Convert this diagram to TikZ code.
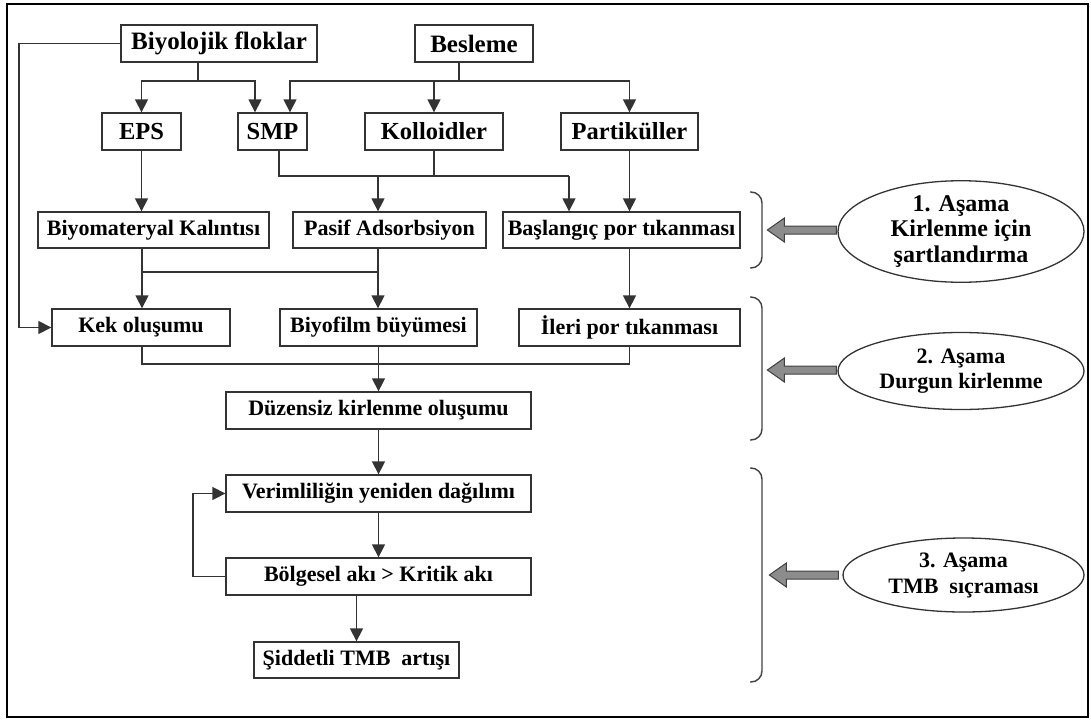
\documentclass[tikz,border=0pt]{standalone}
\usepackage{fontspec}
\setmainfont{Liberation Serif}
\usetikzlibrary{arrows.meta,shapes.geometric}
\begin{document}
\begin{tikzpicture}[x=1pt,y=-1pt,
  box/.style={draw=black!80,line width=1.3pt,inner sep=0pt,minimum height=37pt,align=center,font=\fontsize{22}{24}\selectfont\bfseries},
  bigbox/.style={box,font=\fontsize{25}{27}\selectfont\bfseries},
  midbox/.style={box,font=\fontsize{24.5}{26}\selectfont\bfseries},
  ln/.style={draw=black!80,line width=1.3pt},
  arr/.style={ln,-{Triangle[length=13pt,width=13pt]}},
  ell/.style={ellipse,draw=black!80,line width=1.3pt,inner sep=0pt,align=center},
  brc/.style={draw=black!75,line width=1.4pt,rounded corners=11pt},
  garrow/.style={draw=black!75,fill=black!45,line width=1pt,line join=miter}
]
\useasboundingbox (0,0) rectangle (1091,720);
\draw[line width=2pt] (7,4) rectangle (1088,717);

% top row
\node[bigbox,minimum width=196pt] (bio) at (219,43.5) {Biyolojik floklar};
\node[bigbox,minimum width=118pt] (bes) at (474,43.5) {Besleme};
% second row
\node[midbox,minimum width=79pt] (eps) at (141.5,131.5) {EPS};
\node[midbox,minimum width=69pt] (smp) at (272.5,131.5) {SMP};
\node[midbox,minimum width=138pt] (kol) at (434,131.5) {Kolloidler};
\node[midbox,minimum width=137pt] (par) at (629.5,131.5) {Partiküller};
% third row
\node[box,minimum width=231pt,minimum height=36pt] (biyom) at (153.5,230) {Biyomateryal Kalıntısı};
\node[box,minimum width=193pt,minimum height=36pt] (pasif) at (389.5,230) {Pasif Adsorbsiyon};
\node[box,minimum width=237pt,minimum height=36pt] (bas) at (621.5,230) {Başlangıç por tıkanması};
% fourth row
\node[box,minimum width=178pt] (kek) at (141,327.5) {Kek oluşumu};
\node[box,minimum width=197pt] (biyof) at (378.5,327.5) {Biyofilm büyümesi};
\node[box,minimum width=221pt] (ileri) at (629.5,327.5) {İleri por tıkanması};
% lower column
\node[box,minimum width=305pt] (duz) at (378.5,410.5) {Düzensiz kirlenme oluşumu};
\node[box,minimum width=305pt] (ver) at (378.5,493.5) {Verimliliğin yeniden dağılımı};
\node[box,minimum width=305pt] (bol) at (378.5,576.5) {Bölgesel akı > Kritik akı};
\node[box,minimum width=205pt,minimum height=36pt] (sid) at (356.5,660) {Şiddetli TMB\ \ artışı};

% helper coordinates
\coordinate (bj) at (198,81);
\coordinate (fj) at (459,81);
\coordinate (s1) at (255,0);
\coordinate (s2) at (290,0);
\coordinate (sj) at (279,176);
\coordinate (b1) at (569,0);
\coordinate (p1) at (378,0);
\coordinate (mj) at (142,272);
\coordinate (bj2) at (0,364);
\coordinate (lft) at (19,0);
\coordinate (lp) at (193,0);

% top connectors
\draw[ln] (bio.south -| bj) -- (bj);
\draw[arr] (bj) -| (eps.north);
\draw[arr] (bj) -| (s1 |- smp.north);
\draw[ln] (bes.south -| fj) -- (fj);
\draw[arr] (fj) -| (s2 |- smp.north);
\draw[arr] (fj) -| (kol.north);
\draw[arr] (fj) -| (par.north);

% row 2 -> row 3
\draw[arr] (eps.south) -- (eps.south |- biyom.north);
\draw[ln] (smp.south -| sj) -- (sj) -- (sj -| b1);
\draw[arr] (sj -| b1) -- (b1 |- bas.north);
\draw[ln] (kol.south) -- (kol.south |- sj);
\draw[arr] (sj -| p1) -- (p1 |- pasif.north);
\draw[arr] (par.south) -- (par.south |- bas.north);

% row 3 -> row 4
\draw[ln] (mj |- biyom.south) -- (mj) -- (mj -| p1);
\draw[arr] (mj) -- (mj |- kek.north);
\draw[arr] (p1 |- pasif.south) -- (p1 |- biyof.north);
\draw[arr] (bas.south -| ileri.north) -- (ileri.north);
\draw[arr] (bio.west) -- (bio.west -| lft) |- (kek.west);

% row 4 -> row 5
\draw[ln] (kek.south -| mj) -- (mj |- bj2) -- (bj2 -| ileri.south) -- (ileri.south);
\draw[arr] (biyof.south) -- (biyof.south |- duz.north);
\draw[arr] (duz.south) -- (ver.north);
\draw[arr] (ver.south) -- (bol.north);
\draw[arr] (bol.south -| sid.north) -- (sid.north);
\draw[arr] (bol.west) -- (bol.west -| lp) |- (ver.west);

% braces
\draw[brc] (750,192) -- (762,192) -- (762,268) -- (750,268);
\draw[brc] (750,297) -- (762,297) -- (762,440) -- (750,440);
\draw[brc] (750,468) -- (762,468) -- (762,682) -- (750,682);

% stage ellipses
\node[ell,minimum width=246pt,minimum height=91pt,font=\fontsize{24}{25.5}\selectfont\bfseries] (e1) at (961,231.5) {1. Aşama\\Kirlenme için\\şartlandırma};
\node[ell,minimum width=246pt,minimum height=77pt,font=\fontsize{22}{25}\selectfont\bfseries] (e2) at (961,371) {2. Aşama\\Durgun kirlenme};
\node[ell,minimum width=241pt,minimum height=74pt,font=\fontsize{22}{26}\selectfont\bfseries] (e3) at (963.5,575) {3. Aşama\\TMB\ \ sıçraması};

% gray block arrows
\draw[garrow] (e1.west |- 0,230) ++(-1,-4) -- ++(-52,0) -- ++(0,-8) -- ++(-17,12) -- ++(17,12) -- ++(0,-8) -- ++(52,0) -- cycle;
\draw[garrow] (e2.west |- 0,370) ++(-1,-4) -- ++(-52,0) -- ++(0,-8) -- ++(-17,12) -- ++(17,12) -- ++(0,-8) -- ++(52,0) -- cycle;
\draw[garrow] (e3.west |- 0,575) ++(-4,-4) -- ++(-52,0) -- ++(0,-8) -- ++(-17,12) -- ++(17,12) -- ++(0,-8) -- ++(52,0) -- cycle;
\end{tikzpicture}
\end{document}
